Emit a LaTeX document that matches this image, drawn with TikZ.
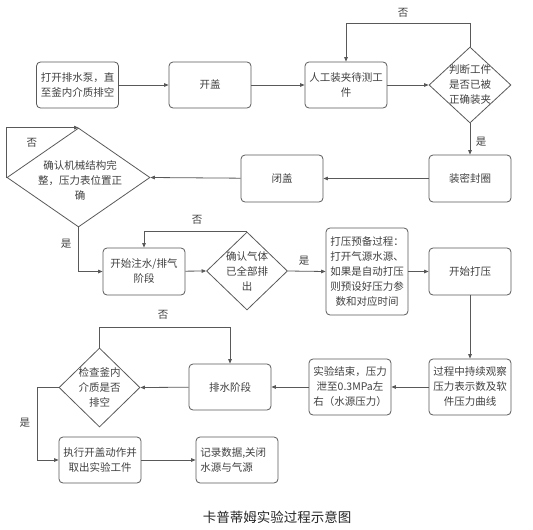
\documentclass[tikz,border=0pt]{standalone}
\usepackage{fontspec}
\newfontfamily\cjk{Noto Sans CJK SC}
\usetikzlibrary{arrows.meta,shapes.geometric}
\definecolor{linegray}{HTML}{595959}
\definecolor{textgray}{HTML}{404040}
\tikzset{
  stepbox/.style={draw=linegray, line width=0.8pt, rounded corners=4pt, minimum width=82pt, minimum height=46pt, inner sep=2pt, align=center, text=textgray, font=\cjk\fontsize{10.5}{15}\selectfont},
  decide/.style={draw=linegray, line width=0.8pt, shape=diamond, inner sep=0pt},
  dtext/.style={align=center, text=textgray, font=\cjk\fontsize{10.5}{15}\selectfont, inner sep=0pt},
  conn/.style={draw=linegray, line width=0.8pt, -{Triangle[length=4.5pt,width=3.6pt]}},
  lbl/.style={text=textgray, font=\cjk\fontsize{10.5}{12}\selectfont, inner sep=0pt}
}
\begin{document}
\begin{tikzpicture}[x=1pt,y=-1pt]
\useasboundingbox (0,0) rectangle (533,530);
% row 1
\node[stepbox] (A) at (77.5,85) {打开排水泵，直\\至釜内介质排空};
\node[stepbox] (B) at (210,85) {开盖};
\node[stepbox] (C) at (346,85) {人工装夹待测工\\件};
\node[decide, minimum width=82pt, minimum height=76pt] (D) at (470,85) {};
\node[dtext] (Dt) at (470,85) {判断工件\\是否已被\\正确装夹};
% row 2
\node[stepbox, minimum height=47pt] (E) at (470,178.5) {装密封圈};
\node[stepbox, minimum height=47pt] (F) at (282,178.5) {闭盖};
\node[decide, minimum width=143pt, minimum height=99pt] (G) at (78.5,177.5) {};
\node[dtext] (Gt) at (80,180) {确认机械结构完\\整，压力表位置正\\确};
% row 3
\node[stepbox, minimum height=47pt] (H) at (144,271.5) {开始注水/排气\\阶段};
\node[decide, minimum width=81pt, minimum height=78pt] (I) at (247,271) {};
\node[dtext] (It) at (247,271) {确认气体\\已全部排\\出};
\node[stepbox, minimum height=87pt, inner sep=1pt] (J) at (367,271.5) {打压预备过程：\\打开气源水源、\\如果是自动打压\\则预设好压力参\\数和对应时间};
\node[stepbox, minimum height=47pt] (K) at (470,271.5) {开始打压};
% row 4
\node[stepbox, minimum height=56pt] (L) at (470,387) {过程中持续观察\\压力表示数及软\\件压力曲线};
\node[stepbox, minimum height=56pt] (M) at (350,387) {实验结束，压力\\泄至0.3MPa左\\右（水源压力）};
\node[stepbox, minimum height=46pt] (N) at (230,387) {排水阶段};
\node[decide, minimum width=81pt, minimum height=79pt] (O) at (99.5,387.5) {};
\node[dtext] (Ot) at (99.5,387.5) {检查釜内\\介质是否\\排空};
% row 5
\node[stepbox] (P) at (100,460) {执行开盖动作并\\取出实验工件};
\node[stepbox, align=left] (Q) at (237,460) {记录数据,关闭\\水源与气源\phantom{关闭}};
% caption
\node[text=black!85, font=\cjk\fontsize{13.5}{16}\selectfont] (cap) at (277,517) {卡普蒂姆实验过程示意图};
% connectors
\draw[conn] (A) -- (B);
\draw[conn] (B) -- (C);
\draw[conn] (C) -- (D);
\coordinate (d1) at (470,23);
\draw[conn] (D.north) -- (d1) -| (C.north);
\node[lbl] (n1) at (403,13) {否};
\draw[conn] (D.south) -- (E.north);
\node[lbl] (y1) at (481,142) {是};
\draw[conn] (E) -- (F);
\draw[conn] (F) -- (G.east);
\draw[conn] (G.west) -- (G.west |- G.north) -- (G.north);
\node[lbl] (n2) at (32,143) {否};
\draw[conn] (G.south) |- (H.west);
\node[lbl] (y2) at (66,244) {是};
\draw[conn] (H) -- (I.west);
\draw[conn] (I.north) -- (H.north |- I.north) -- (H.north);
\node[lbl] (n3) at (197,220) {否};
\draw[conn] (I.east) -- (J.west);
\node[lbl] (y3) at (304,261) {是};
\draw[conn] (J) -- (K);
\draw[conn] (K) -- (L);
\draw[conn] (L) -- (M);
\draw[conn] (M) -- (N);
\draw[conn] (N) -- (O.east);
\coordinate (o1) at (99.5,327);
\draw[conn] (O.north) -- (o1) -| (N.north);
\node[lbl] (n4) at (163,315) {否};
\coordinate (o2) at (37,387.5);
\draw[conn] (O.west) -- (o2) |- (P.west);
\node[lbl] (y4) at (25,423) {是};
\draw[conn] (P) -- (Q);
\end{tikzpicture}
\end{document}
